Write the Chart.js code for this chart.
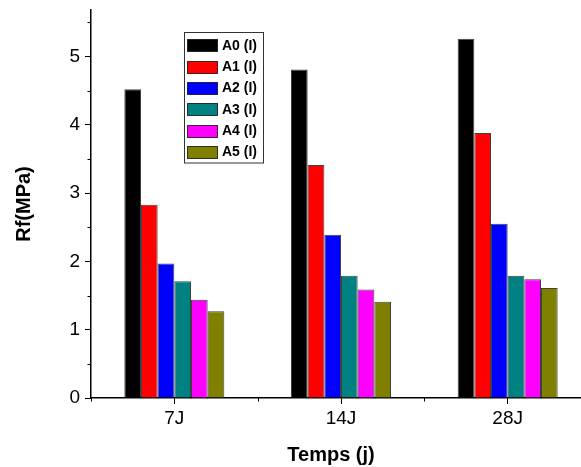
<!DOCTYPE html>
<html>
<head>
<meta charset="utf-8">
<script src="https://cdn.jsdelivr.net/npm/chart.js@4.4.1/dist/chart.umd.min.js"></script>
<style>
  html, body { margin: 0; padding: 0; background: #fff; overflow: hidden; }
  #wrap { width: 600px; height: 467px; position: relative; }
</style>
</head>
<body>
<div id="wrap"><canvas id="c" width="600" height="467"></canvas></div>
<script>
// Flexural strength Rf (MPa) by curing time, one series per mix
const categories = ['7J', '14J', '28J'];
const seriesNames = ['A0 (I)', 'A1 (I)', 'A2 (I)', 'A3 (I)', 'A4 (I)', 'A5 (I)'];
const a0 = [4.52, 4.81, 5.26];
const a1 = [2.83, 3.41, 3.88];
const a2 = [1.97, 2.39, 2.55];
const a3 = [1.71, 1.79, 1.79];
const a4 = [1.44, 1.59, 1.74];
const a5 = [1.27, 1.41, 1.61];
const yTickValues = [0, 1, 2, 3, 4, 5];
const xTitle = 'Temps (j)';
const yTitle = 'Rf(MPa)';

const seriesValues = [a0, a1, a2, a3, a4, a5];
const fills = ['#000000', '#ff0000', '#0000ff', '#008080', '#ff00ff', '#808000'];
const FONT = "'Liberation Sans', Arial, sans-serif";

const datasets = seriesNames.map((name, i) => ({
  label: name,
  data: seriesValues[i],
  backgroundColor: fills[i],
  borderColor: 'rgba(0,0,0,0.75)',
  borderWidth: 1,
  barPercentage: 1.0,
  categoryPercentage: 0.6
}));

// Boxed legend inside the plot, minor ticks and axis titles
const decorations = {
  id: 'decorations',
  afterDraw(chart) {
    const ctx = chart.ctx;
    const xs = chart.scales.x, ys = chart.scales.y;
    const area = chart.chartArea;
    ctx.save();

    // minor ticks on the value axis (half steps)
    ctx.strokeStyle = '#000';
    ctx.lineWidth = 1;
    for (let v = 0.5; v < ys.max; v += 1) {
      const py = Math.round(ys.getPixelForValue(v)) + 0.5;
      ctx.beginPath();
      ctx.moveTo(area.left - 3.5, py);
      ctx.lineTo(area.left, py);
      ctx.stroke();
    }
    // minor ticks between categories
    const step = xs.getPixelForValue(1) - xs.getPixelForValue(0);
    for (let i = 0; i <= categories.length; i++) {
      const px = Math.round(xs.getPixelForValue(0) - step / 2 + i * step) + 0.5;
      ctx.beginPath();
      ctx.moveTo(px, area.bottom);
      ctx.lineTo(px, area.bottom + 3.5);
      ctx.stroke();
    }

    // axis titles
    ctx.fillStyle = '#000';
    ctx.font = 'bold 20px ' + FONT;
    ctx.textAlign = 'center';
    ctx.textBaseline = 'middle';
    ctx.fillText(xTitle, 331, 455);
    ctx.save();
    ctx.translate(24, (area.top + area.bottom) / 2);
    ctx.rotate(-Math.PI / 2);
    ctx.fillText(yTitle, 0, 0);
    ctx.restore();

    // legend box
    const bx = 184.5, by = 32.5, bw = 79, bh = 130.5;
    ctx.fillStyle = '#fff';
    ctx.fillRect(bx, by, bw, bh);
    ctx.strokeStyle = '#333';
    ctx.lineWidth = 1;
    ctx.strokeRect(bx, by, bw, bh);
    ctx.font = 'bold 14px ' + FONT;
    ctx.textAlign = 'left';
    ctx.textBaseline = 'middle';
    chart.data.datasets.forEach((ds, i) => {
      const cy = 45.3 + i * 21.3;
      ctx.fillStyle = ds.backgroundColor;
      ctx.fillRect(187.5, Math.round(cy - 6) + 0.5, 30, 12);
      ctx.strokeStyle = 'rgba(0,0,0,0.75)';
      ctx.strokeRect(187.5, Math.round(cy - 6) + 0.5, 30, 12);
      ctx.fillStyle = '#000';
      ctx.fillText(ds.label, 222, cy + 0.5);
    });
    ctx.restore();
  }
};

new Chart(document.getElementById('c'), {
  type: 'bar',
  data: { labels: categories, datasets },
  options: {
    responsive: false,
    devicePixelRatio: 1,
    animation: false,
    layout: { padding: { left: 0, right: 9, top: 10, bottom: 0 } },
    plugins: { legend: { display: false }, tooltip: { enabled: false } },
    scales: {
      x: {
        type: 'category',
        offset: true,
        grid: { display: true, offset: false, drawOnChartArea: false, drawTicks: true, tickLength: 6, color: '#000', lineWidth: 1 },
        border: { display: true, color: '#000', width: 1.5 },
        ticks: { color: '#000', font: { size: 19, family: FONT }, padding: 3, maxRotation: 0 },
        afterFit: s => { s.height = 69; s.paddingLeft = 0; s.paddingRight = 0; }
      },
      y: {
        min: 0,
        max: 5.68,
        grid: { display: true, drawOnChartArea: false, drawTicks: true, tickLength: 6, color: '#000', lineWidth: 1 },
        border: { display: true, color: '#000', width: 1.5 },
        ticks: { stepSize: 1, color: '#000', font: { size: 19, family: FONT }, padding: 5 },
        afterBuildTicks: s => { s.ticks = yTickValues.map(v => ({ value: v })); },
        afterFit: s => { s.width = 91; s.paddingTop = 0; s.paddingBottom = 0; }
      }
    }
  },
  plugins: [decorations]
});
</script>
</body>
</html>
